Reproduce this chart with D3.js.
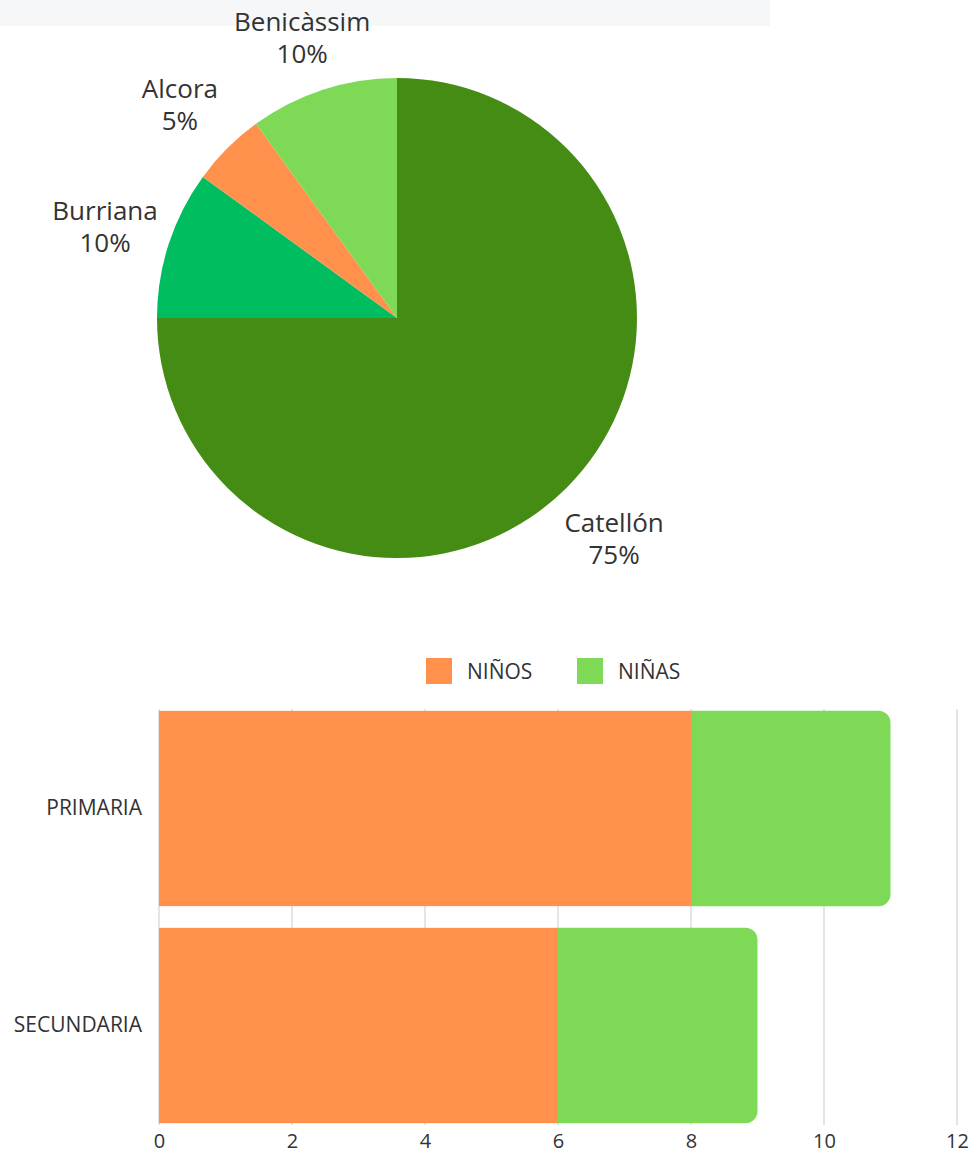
<!DOCTYPE html>
<html lang="es">
<head>
<meta charset="UTF-8">
<title>Alumnos</title>
<script src="https://cdn.jsdelivr.net/npm/d3@7"></script>
<style>
  body { margin: 0; background: #fff; font-family: "Open Sans", sans-serif; }
  svg { display: block; }
</style>
</head>
<body>
<div id="container"></div>
<script>
// pie data
const towns = ['Catellón', 'Burriana', 'Alcora', 'Benicàssim']
const townShares = [75, 10, 5, 10]
const townColors = ['#458c15', '#00be5f', '#ff914d', '#7ed957']

// bar data
const levels = ['PRIMARIA', 'SECUNDARIA']
const boys = [8, 6]
const girls = [3, 3]
const seriesNames = ['NIÑOS', 'NIÑAS']
const seriesColors = ['#ff914d', '#7ed957']
const xTicks = [0, 2, 4, 6, 8, 10, 12]

const width = 972
const height = 1157

const svg = d3.select('#container').append('svg')
  .attr('width', width)
  .attr('height', height)
  .attr('viewBox', [0, 0, width, height])

// faint strip left over from the page header
svg.append('rect')
  .attr('x', 0).attr('y', 0)
  .attr('width', 770).attr('height', 26)
  .attr('fill', '#f6f7f9')

// ---- pie ----
const cx = 397, cy = 318, r = 240
const pieData = towns.map((t, i) => ({ name: t, value: townShares[i], color: townColors[i] }))
const arcs = d3.pie().sort(null).value(d => d.value)(pieData)
const arc = d3.arc().innerRadius(0).outerRadius(r)
const labelArc = d3.arc().innerRadius(307).outerRadius(307)

const pie = svg.append('g').attr('transform', `translate(${cx},${cy})`)
pie.selectAll('path')
  .data(arcs)
  .join('path')
  .attr('d', arc)
  .attr('fill', d => d.data.color)

// label anchor, kept inside the top edge of the chart area
function labelPos(d) {
  const [x, y] = labelArc.centroid(d)
  return [x, Math.max(y - 3, 31 - cy)]
}
const lbl = pie.selectAll('g.lbl')
  .data(arcs)
  .join('g')
  .attr('class', 'lbl')
  .attr('transform', d => `translate(${labelPos(d)})`)
  .attr('text-anchor', 'middle')
  .attr('font-size', 26)
  .attr('fill', '#333')
lbl.append('text').attr('y', 0).text(d => d.data.name)
lbl.append('text').attr('y', 32).text(d => d.data.value + '%')

// ---- stacked bars ----
const marginLeft = 159, marginRight = 15
const xScale = d3.scaleLinear().domain([0, 12]).range([marginLeft, width - marginRight])
const yScale = d3.scaleBand().domain(levels).range([700, 1134]).paddingInner(0.1).paddingOuter(0.05)

// grid
svg.append('g')
  .selectAll('line')
  .data(xTicks)
  .join('line')
  .attr('x1', d => xScale(d)).attr('x2', d => xScale(d))
  .attr('y1', 709).attr('y2', 1125)
  .attr('stroke', '#dcdcdc')
  .attr('stroke-width', 1.5)

const bars = svg.append('g')
levels.forEach((lev, i) => {
  const y = yScale(lev), h = yScale.bandwidth()
  bars.append('rect')
    .attr('x', xScale(0)).attr('y', y)
    .attr('width', xScale(boys[i]) - xScale(0)).attr('height', h)
    .attr('fill', seriesColors[0])
  // girls segment with rounded right end
  const x0 = xScale(boys[i]), x1 = xScale(boys[i] + girls[i]), rr = 12
  const p = d3.path()
  p.moveTo(x0, y)
  p.lineTo(x1 - rr, y)
  p.arcTo(x1, y, x1, y + rr, rr)
  p.lineTo(x1, y + h - rr)
  p.arcTo(x1, y + h, x1 - rr, y + h, rr)
  p.lineTo(x0, y + h)
  p.closePath()
  bars.append('path').attr('d', p.toString()).attr('fill', seriesColors[1])
})

// y axis labels
svg.append('g')
  .attr('transform', `translate(${marginLeft}, 0)`)
  .call(d3.axisLeft(yScale).tickSize(0).tickPadding(17))
  .call(g => g.select('.domain').remove())
  .selectAll('text')
  .attr('font-family', '"Open Sans", sans-serif')
  .attr('font-size', 21)
  .attr('fill', '#333')

// x axis labels
svg.append('g')
  .attr('transform', `translate(0, 1125)`)
  .call(d3.axisBottom(xScale).tickValues(xTicks).tickSize(0).tickPadding(9))
  .call(g => g.select('.domain').remove())
  .selectAll('text')
  .attr('font-family', '"Open Sans", sans-serif')
  .attr('font-size', 20)
  .attr('fill', '#333')

// legend
const legendX = [426, 577]
const legend = svg.append('g')
seriesNames.forEach((name, i) => {
  legend.append('rect')
    .attr('x', legendX[i]).attr('y', 658)
    .attr('width', 26).attr('height', 26)
    .attr('fill', seriesColors[i])
  legend.append('text')
    .attr('x', legendX[i] + 41).attr('y', 672)
    .attr('dy', '0.35em')
    .attr('font-size', 21)
    .attr('fill', '#333')
    .text(name)
})
</script>
</body>
</html>
